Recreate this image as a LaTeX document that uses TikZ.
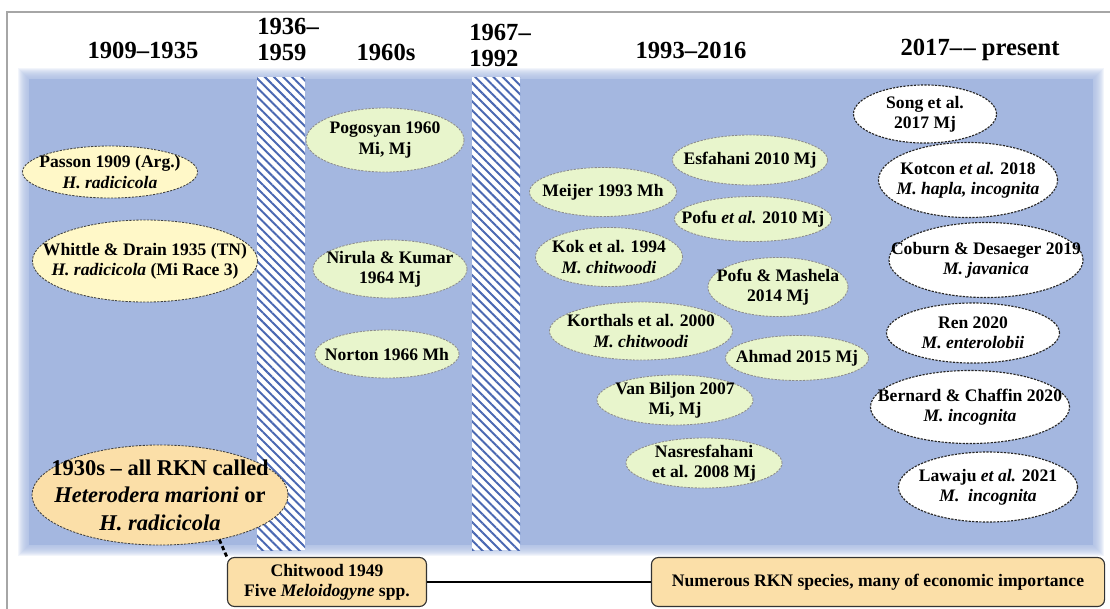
\documentclass[tikz,border=0pt]{standalone}
\usepackage{fontspec}
\setmainfont{Liberation Serif}
\usetikzlibrary{shapes.geometric,patterns.meta,positioning}
\definecolor{band}{HTML}{A4B7E0}
\definecolor{stripe}{HTML}{4A68B2}
\definecolor{early}{HTML}{FFF8C8}
\definecolor{mid}{HTML}{E8F5CC}
\definecolor{tan}{HTML}{FBDFA8}
\definecolor{framegray}{HTML}{A6A6A6}
\newcommand{\hdrfont}{\fontsize{17.5pt}{18.5pt}\selectfont\bfseries}
\newcommand{\elfont}{\fontsize{12.5pt}{14.5pt}\selectfont\bfseries}
\newcommand{\bigelfont}{\fontsize{16pt}{19.5pt}\selectfont\bfseries}

\begin{document}
\begin{tikzpicture}[x=0.025cm,y=-0.025cm,
    hdr/.style={font=\hdrfont,align=center,inner sep=0pt},
    ell/.style={ellipse,draw,dash pattern=on 1.6pt off 0.9pt,line width=0.6pt,
      inner xsep=-4cm,inner ysep=-2cm,align=center,font=\elfont},
    yel/.style={ell,fill=early,draw=black!75},
    grn/.style={ell,fill=mid,draw=black!45},
    wht/.style={ell,fill=white,draw=black!85,line width=0.8pt},
    sz/.style 2 args={minimum width=#1cm,minimum height=#2cm},
    tanbox/.style={draw=black!80,line width=0.8pt,rounded corners=5pt,fill=tan,
      align=center,font=\elfont,minimum height=1.225cm}]
    \useasboundingbox (0,0) rectangle (1110,608);
    \draw[framegray,line width=0.8pt] (7,12) rectangle (1130,640);
    \foreach \d in {0,...,11}
      \fill[band,opacity=0.14] (18+\d,68+\d) rectangle (1104-\d,556-\d);
    \fill[band] (29,79) rectangle (1093,545);
    \foreach \a/\b in {257/305,472/520} {
      \fill[white] (\a,77) rectangle (\b,550);
      \fill[pattern={Lines[angle=-45,distance=4.6pt,line width=1.4pt]},pattern color=stripe]
        (\a,77) rectangle (\b,550);
    }
    \node[hdr] (h1) at (143,50) {1909–1935};
    \node[hdr,align=left,anchor=west] (h2) at (257,39) {1936–\\1959};
    \node[hdr] (h3) at (386,52) {1960s};
    \node[hdr,align=left,anchor=west] (h4) at (469,45) {1967–\\1992};
    \node[hdr] (h5) at (691,50) {1993–2016};
    \node[hdr] (h6) at (980,50) {2017–\kern1pt– present};

    \node[yel,sz={4.375}{1.3}] (passon) at (110,172) {Passon 1909 (Arg.)\\\textit{H. radicicola}};
    \node[yel,sz={5.625}{2.05}] (whittle) at (145,261) {Whittle \& Drain 1935 (TN)\\\textit{H. radicicola} (Mi Race 3)};
    \node[ell,fill=tan,draw=black!75,sz={6.4}{2.5},font=\bigelfont] (big) at (160,495)
      {1930s – all RKN called\\\textit{Heterodera marioni} or\\\textit{H. radicicola}};

    \node[grn,sz={3.95}{1.6}] (pogo) at (385,140) {Pogosyan 1960\\Mi, Mj};
    \node[grn,sz={3.85}{1.45}] (nirula) at (390,269) {Nirula \& Kumar\\1964 Mj};
    \node[grn,sz={3.6}{1.2}] (norton) at (387,354) {Norton 1966 Mh};

    \node[grn,sz={3.875}{1.25}] (esfa) at (750,160) {Esfahani 2010 Mj};
    \node[grn,sz={3.675}{1.225}] (meijer) at (603,192) {Meijer 1993 Mh};
    \node[grn,sz={3.925}{1.125}] (pofu) at (753,219) {Pofu \textit{et al.} 2010 Mj};
    \node[grn,sz={3.675}{1.475}] (kok) at (609,257) {Kok et al. 1994\\\textit{M. chitwoodi}};
    \node[grn,sz={3.5}{1.475}] (mashela) at (778,287) {Pofu \& Mashela\\2014 Mj};
    \node[grn,sz={4.575}{1.45}] (korthals) at (641,331) {Korthals et al. 2000\\\textit{M. chitwoodi}};
    \node[grn,sz={3.575}{1.125}] (ahmad) at (797,358) {Ahmad 2015 Mj};
    \node[grn,sz={3.9}{1.25}] (biljon) at (675,400) {Van Biljon 2007\\Mi, Mj};
    \node[grn,sz={3.9}{1.25}] (nasres) at (704,463) {Nasresfahani\\et al. 2008 Mj};

    \node[wht,sz={3.575}{1.45}] (song) at (925,114) {Song et al.\\2017 Mj};
    \node[wht,sz={4.475}{1.875}] (kotcon) at (968,180) {Kotcon \textit{et al.} 2018\\\textit{M. hapla, incognita}};
    \node[wht,sz={4.85}{1.875}] (coburn) at (986,260) {Coburn \& Desaeger 2019\\\textit{M. javanica}};
    \node[wht,sz={4.325}{1.5}] (ren) at (973,333) {Ren 2020\\\textit{M. enterolobii}};
    \node[wht,sz={4.975}{1.825}] (bernard) at (970,407) {Bernard \& Chaffin 2020\\\textit{M. incognita}};
    \node[wht,sz={4.475}{1.75}] (lawaju) at (988,487) {Lawaju \textit{et al.} 2021\\\textit{M.\ \ incognita}};

    \node[tanbox,minimum width=4.975cm] (chit) at (327,582) {Chitwood 1949\\Five \textit{Meloidogyne} spp.};
    \node[tanbox,minimum width=11.325cm] (numer) at (878,582) {Numerous RKN species, many of economic importance};
    \draw[line width=2pt,dash pattern=on 3pt off 2pt] (big.-37) -- (chit.north west);
    \draw[line width=0.8pt] (chit) -- (numer);
  \end{tikzpicture}
\end{document}
